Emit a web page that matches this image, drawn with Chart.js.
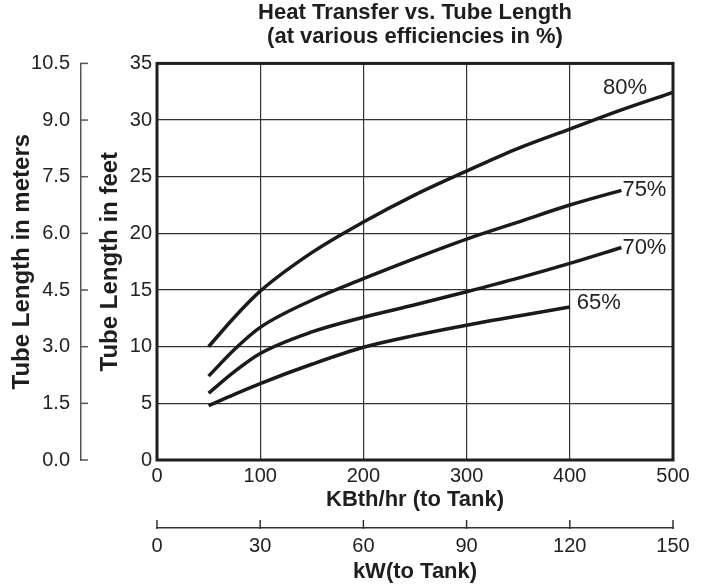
<!DOCTYPE html>
<html>
<head>
<meta charset="utf-8">
<script src="https://cdn.jsdelivr.net/npm/chart.js@4.4.1/dist/chart.umd.min.js"></script>
<style>
  html, body { margin: 0; padding: 0; background: #fff; }
</style>
</head>
<body>
<canvas id="heatChart" width="703" height="587"></canvas>
<script>
// KBth/hr points where the curves were read
const kbth = [50, 75, 100, 150, 200, 250, 300, 350, 400, 450, 500];

// tube length in feet for each efficiency
const eff80 = [10.0, 12.6, 14.9, 18.3, 21.0, 23.4, 25.5, 27.5, 29.2, 30.9, 32.45];
const eff75 = [7.4, 9.75, 11.7, 14.1, 16.0, 17.8, 19.5, 21.0, 22.5, 23.8];
const eff70 = [5.9, 7.8, 9.4, 11.3, 12.6, 13.7, 14.85, 16.05, 17.35, 18.75];
const eff65 = [4.8, 5.8, 6.75, 8.45, 9.95, 11.0, 11.9, 12.7, 13.5];

const seriesLabels = ['80%', '75%', '70%', '65%'];

// tick labels
const kbthTicks = [0, 100, 200, 300, 400, 500];
const kwTicks = [0, 30, 60, 90, 120, 150];
const feetTicks = [0, 5, 10, 15, 20, 25, 30, 35];
const meterTicks = [0, 1.5, 3, 4.5, 6, 7.5, 9, 10.5];

const FONT = '"Liberation Sans", Arial, Helvetica, sans-serif';
Chart.defaults.font.family = FONT;
Chart.defaults.color = '#222';

function toPoints(values) {
    return values.map((v, i) => ({ x: kbth[i], y: v }));
}

// where each curve label sits, relative to the end of its curve
const labelPlacement = {
    '80%': { dx: -48, dy: -4, align: 'center' },
    '75%': { dx: 1, dy: 0, align: 'left' },
    '70%': { dx: 1, dy: 0, align: 'left' },
    '65%': { dx: 7, dy: -4, align: 'left' }
};

const extraMarks = {
    id: 'extraMarks',
    afterDatasetsDraw(chart) {
        const { ctx, chartArea: a, scales } = chart;
        ctx.save();

        // frame round the plot
        ctx.strokeStyle = '#1e1e1e';
        ctx.lineWidth = 3;
        ctx.strokeRect(a.left, a.top, a.right - a.left, a.bottom - a.top);

        // meter axis ticks point toward the plot
        const ym = scales.ym;
        ctx.strokeStyle = '#555';
        ctx.lineWidth = 1.5;
        ym.ticks.forEach(t => {
            const y = ym.getPixelForValue(t.value);
            ctx.beginPath();
            ctx.moveTo(ym.right - 1, y);
            ctx.lineTo(ym.right + 7, y);
            ctx.stroke();
        });

        // kW axis ticks point up
        const x2 = scales.x2;
        ctx.strokeStyle = '#333';
        x2.ticks.forEach(t => {
            const x = x2.getPixelForValue(t.value);
            ctx.beginPath();
            ctx.moveTo(x, x2.top + 1);
            ctx.lineTo(x, x2.top - 8);
            ctx.stroke();
        });

        // efficiency labels at the curve ends
        ctx.font = '22px ' + FONT;
        ctx.fillStyle = '#222';
        ctx.textBaseline = 'middle';
        chart.data.datasets.forEach((ds, i) => {
            const pts = chart.getDatasetMeta(i).data;
            const last = pts[pts.length - 1];
            const p = labelPlacement[ds.label];
            ctx.textAlign = p.align;
            ctx.fillText(ds.label, last.x + p.dx, last.y + p.dy);
        });

        ctx.restore();
    }
};

const lineStyle = {
    borderColor: '#1a1a1a',
    borderWidth: 3.5,
    pointRadius: 0,
    fill: false,
    cubicInterpolationMode: 'monotone',
    borderCapStyle: 'butt'
};

const ctx = document.getElementById('heatChart').getContext('2d');

const heatChart = new Chart(ctx, {
    type: 'line',
    data: {
        datasets: [
            { label: seriesLabels[0], data: toPoints(eff80), ...lineStyle },
            { label: seriesLabels[1], data: toPoints(eff75), ...lineStyle },
            { label: seriesLabels[2], data: toPoints(eff70), ...lineStyle },
            { label: seriesLabels[3], data: toPoints(eff65), ...lineStyle }
        ]
    },
    options: {
        responsive: false,
        animation: false,
        layout: { padding: { left: 0, right: 30, top: 0, bottom: 0 } },
        plugins: {
            legend: { display: false },
            tooltip: { enabled: false },
            title: {
                display: true,
                fullSize: false,
                text: ['Heat Transfer vs. Tube Length', '(at various efficiencies in %)'],
                color: '#1e1e1e',
                font: { size: 22, weight: 'bold', lineHeight: 1.1 },
                padding: { top: 1, bottom: 14 }
            }
        },
        scales: {
            x: {
                type: 'linear',
                position: 'bottom',
                weight: 0,
                min: 0,
                max: 500,
                afterBuildTicks: s => { s.ticks = kbthTicks.map(v => ({ value: v })); },
                afterFit: s => { s.height = 68; },
                ticks: { padding: 4, font: { size: 20 }, color: '#222' },
                grid: { color: '#333', lineWidth: 1.2, drawTicks: false },
                border: { display: false },
                title: {
                    display: true,
                    text: 'KBth/hr (to Tank)',
                    color: '#1e1e1e',
                    font: { size: 22, weight: 'bold' },
                    padding: { top: 0, bottom: 15 }
                }
            },
            x2: {
                type: 'linear',
                position: 'bottom',
                weight: 1,
                min: 0,
                max: 150,
                afterBuildTicks: s => { s.ticks = kwTicks.map(v => ({ value: v })); },
                afterFit: s => { s.height = 59; },
                ticks: { padding: 6, font: { size: 20 }, color: '#222' },
                grid: { drawOnChartArea: false, drawTicks: false },
                border: { display: true, color: '#333', width: 1.5 },
                title: {
                    display: true,
                    text: 'kW(to Tank)',
                    color: '#1e1e1e',
                    font: { size: 22, weight: 'bold' },
                    padding: { top: 0, bottom: 2 }
                }
            },
            y: {
                type: 'linear',
                position: 'left',
                weight: 0,
                min: 0,
                max: 35,
                afterBuildTicks: s => { s.ticks = feetTicks.map(v => ({ value: v })); },
                afterFit: s => { s.width = 76; },
                ticks: { padding: 5, font: { size: 20 }, color: '#222' },
                grid: { color: '#333', lineWidth: 1.2, drawTicks: false },
                border: { display: false },
                title: {
                    display: true,
                    text: 'Tube Length in feet',
                    color: '#1e1e1e',
                    font: { size: 24, weight: 'bold' },
                    padding: { top: 15, bottom: 0 }
                }
            },
            ym: {
                type: 'linear',
                position: 'left',
                weight: 1,
                min: 0,
                max: 10.5,
                afterBuildTicks: s => { s.ticks = meterTicks.map(v => ({ value: v })); },
                afterFit: s => { s.width = 81; },
                ticks: {
                    padding: 11,
                    font: { size: 20 },
                    color: '#222',
                    callback: v => Number(v).toFixed(1)
                },
                grid: { drawOnChartArea: false, drawTicks: false },
                border: { display: true, color: '#555', width: 1.5 },
                title: {
                    display: true,
                    text: 'Tube Length in meters',
                    color: '#1e1e1e',
                    font: { size: 24, weight: 'bold' },
                    padding: { top: 8, bottom: 0 }
                }
            }
        }
    },
    plugins: [extraMarks]
});
</script>
</body>
</html>
